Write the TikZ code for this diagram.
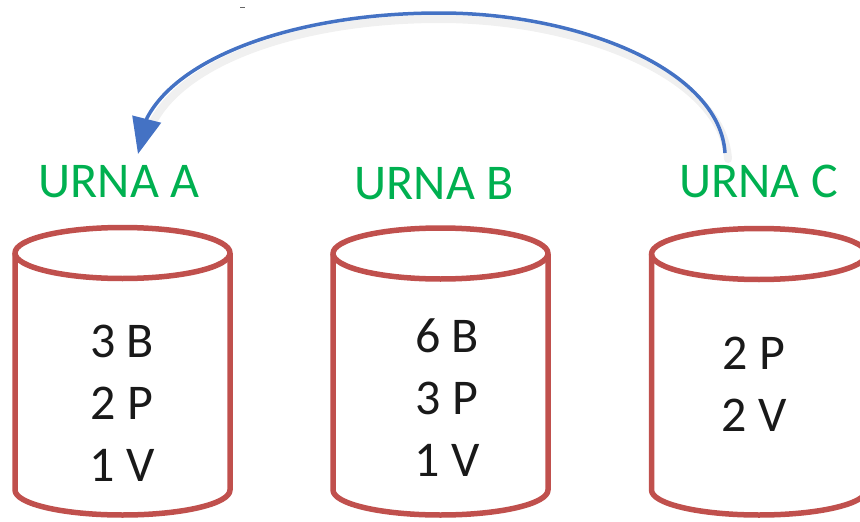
\documentclass[tikz,border=0pt]{standalone}
\usepackage{fontspec}
\setmainfont{Carlito}
\usetikzlibrary{arrows.meta}
\definecolor{urnred}{RGB}{192,80,77}
\definecolor{urngreen}{RGB}{0,176,80}
\definecolor{arrblue}{RGB}{68,114,196}
\tikzset{
  cyl/.style={draw=urnred, line width=5.5pt, line join=round},
  lbl/.style={text=urngreen, font=\fontsize{50}{60}\selectfont, inner sep=0pt},
  content/.style={text=black!90, font=\fontsize{50}{62}\selectfont, align=center, inner sep=0pt},
  arrowline/.style={draw=arrblue, line width=3.5pt, -{Triangle[width=29pt,length=36pt]}},
  arrowshadow/.style={draw=black!6, line width=8pt, line cap=round},
}
\begin{document}
\begin{tikzpicture}[x=1pt,y=-1pt]
\useasboundingbox (0,0) rectangle (860,522);
% cylinders
\foreach \cx/\ty in {122.5/253, 440.5/253.5, 759/254} {
  \draw[cyl] (\cx-107.5,\ty) -- (\cx-107.5,490)
     arc[start angle=180, end angle=0, x radius=107.5, y radius=25]
     -- (\cx+107.5,\ty);
  \draw[cyl] (\cx,\ty) ellipse [x radius=107.5, y radius=25.5];
}
% labels
\node[lbl] (lblA) at (119,181.5) {URNA A};
\node[lbl] (lblB) at (434,183.5) {URNA B};
\node[lbl] (lblC) at (758.5,181.5) {URNA C};
% contents
\node[content] (inA) at (122,403) {3 B\\2 P\\1 V};
\node[content] (inB) at (447,398) {6 B\\3 P\\1 V};
\node[content] (inC) at (754,384) {2 P\\2 V};
% arrow
\coordinate (cStart) at (725,153);
\coordinate (aEnd) at (138,154);
\draw[arrowshadow] ([shift={(3,6)}]cStart) .. controls (723,76) and (580,19) .. (440,19)
   .. controls (300,19) and (183,61) .. (152,124);
\draw[arrowline] (cStart) .. controls (720,70) and (580,13) .. (440,13)
   .. controls (300,13) and (180,55) .. (147,118) -- (aEnd);
% small mark
\draw[black!60, line width=1pt] (240,7) -- (245,7);
\end{tikzpicture}
\end{document}
